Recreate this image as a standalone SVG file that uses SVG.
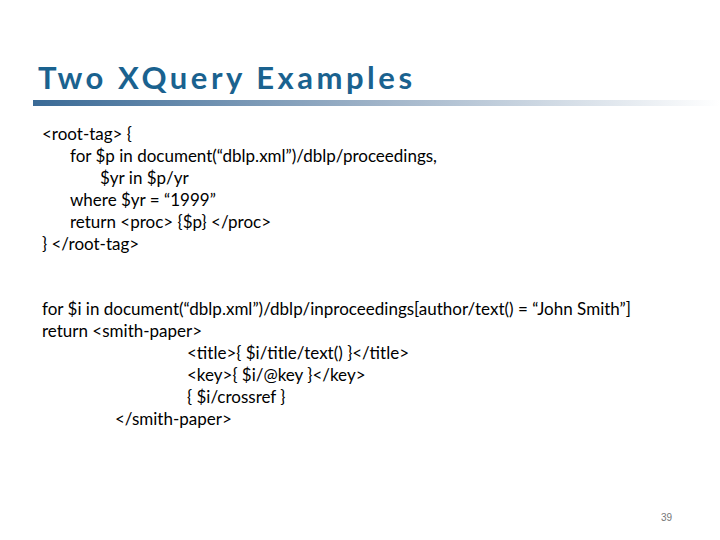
<svg xmlns="http://www.w3.org/2000/svg" width="720" height="540" viewBox="0 0 720 540">
<defs>
<linearGradient id="bar" x1="0" y1="0" x2="1" y2="0">
<stop offset="0" stop-color="#3a6a96"/><stop offset="0.5" stop-color="#9fb3c8"/><stop offset="1" stop-color="#ffffff"/>
</linearGradient>
<style>
.t{font-family:Lato,"Liberation Sans",sans-serif;font-size:17px;fill:#000}
.h{font-family:Lato,"Liberation Sans",sans-serif;font-size:31px;font-weight:bold;fill:#1a628f}
</style>
</defs>
<rect width="720" height="540" fill="#fff"/>
<text class="h" x="38" y="89" textLength="374" lengthAdjust="spacing">Two XQuery Examples</text>
<rect x="33" y="100" width="687" height="6" fill="url(#bar)"/>
<g class="t">
<text x="42" y="140">&lt;root-tag&gt; {</text>
<text x="70" y="162">for $p in document(“dblp.xml”)/dblp/proceedings,</text>
<text x="100" y="184">$yr in $p/yr</text>
<text x="70" y="206">where $yr = “1999”</text>
<text x="70" y="228">return &lt;proc&gt; {$p} &lt;/proc&gt;</text>
<text x="42" y="250">} &lt;/root-tag&gt;</text>
<text x="42" y="315" textLength="589" lengthAdjust="spacing">for $i in document(“dblp.xml”)/dblp/inproceedings[author/text() = “John Smith”]</text>
<text x="42" y="337">return &lt;smith-paper&gt;</text>
<text x="187" y="359">&lt;title&gt;{ $i/title/text() }&lt;/title&gt;</text>
<text x="187" y="381">&lt;key&gt;{ $i/@key }&lt;/key&gt;</text>
<text x="187" y="403">{ $i/crossref }</text>
<text x="115" y="425">&lt;/smith-paper&gt;</text>
</g>
<text x="672" y="521" font-family="Liberation Sans,sans-serif" font-size="10" fill="#777" text-anchor="end">39</text>
</svg>
